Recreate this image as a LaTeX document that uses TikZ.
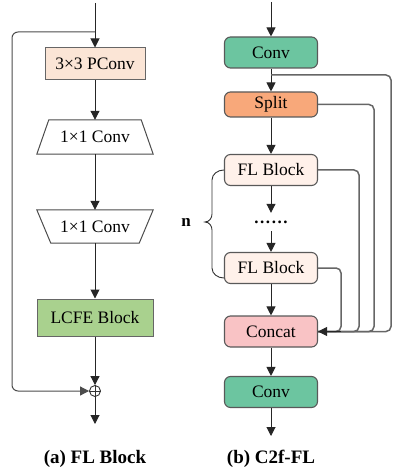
\documentclass[tikz,border=0pt]{standalone}
\usepackage{fontspec}
\setmainfont{Liberation Serif}
\usetikzlibrary{arrows.meta,calc}
\definecolor{pconv}{HTML}{FBE5D6}
\definecolor{lcfe}{HTML}{A9D18E}
\definecolor{convg}{HTML}{6CC5A0}
\definecolor{splitc}{HTML}{F8A87A}
\definecolor{flc}{HTML}{FFF1EA}
\definecolor{concatc}{HTML}{F9C3C5}
\begin{document}
\begin{tikzpicture}[x=1pt,y=-1pt,
  every node/.style={font=\fontsize{17.5}{20}\selectfont},
  lbox/.style={draw=black!60, line width=1pt, minimum width=100pt, minimum height=32pt, inner sep=0pt},
  trapbox/.style={minimum width=116pt, inner sep=0pt},
  trapline/.style={draw=black!70, line width=1pt},
  rbox/.style={draw=black!65, line width=1.1pt, rounded corners=6pt, minimum width=93pt, minimum height=31pt, inner sep=0pt},
  arr/.style={draw=black!85, line width=1pt, -{Triangle[length=9pt,width=9pt]}},
  fback/.style={draw=black!70, line width=1pt, rounded corners=6pt, -{Triangle[length=9pt,width=9pt]}},
  link/.style={draw=black!60, line width=1.5pt, rounded corners=5pt},
  captext/.style={font=\bfseries\fontsize{19}{22}\selectfont}
]
\useasboundingbox (0,0) rectangle (392,470);

% ---------- (a) FL Block ----------
\coordinate (lin) at (95,3);
\node[lbox, fill=pconv] (pc) at (95,64) {3×3 PConv};
\node[trapbox, minimum height=34pt] (t1) at (95,137) {1×1 Conv};
\draw[trapline] ($(t1.north west)+(12,0)$) -- ($(t1.north east)+(-12,0)$) -- (t1.south east) -- (t1.south west) -- cycle;
\node[trapbox, minimum height=33pt] (t2) at (95,226.5) {1×1 Conv};
\draw[trapline] (t2.north west) -- (t2.north east) -- ($(t2.south east)+(-14,0)$) -- ($(t2.south west)+(14,0)$) -- cycle;
\node[lbox, fill=lcfe, minimum width=116pt, minimum height=37pt] (lc) at (95,317.5) {LCFE Block};
\node[circle, draw=black!80, line width=0.9pt, inner sep=0pt, minimum size=11pt] (add) at (95,391) {};
\draw[black!80, line width=0.9pt] (add.north) -- (add.south) (add.west) -- (add.east);
\coordinate (lout) at (95,424);
\coordinate (fb1) at (95,32);
\coordinate (fb2) at (12,32);
\coordinate (fb3) at (12,391);

\draw[arr] (lin) -- (pc);
\draw[arr] (pc) -- (t1);
\draw[arr] (t1) -- (t2);
\draw[arr] (t2) -- (lc);
\draw[arr] (lc) -- (add);
\draw[arr] (add) -- (lout);
\draw[fback] (fb1) -- (fb2) -- (fb3) -- (add.west);

\node[captext] (capa) at (95,459) {(a) FL Block};

% ---------- (b) C2f-FL ----------
\coordinate (rin) at (271,2);
\node[rbox, fill=convg] (c1) at (271,52.5) {Conv};
\node[rbox, fill=splitc, minimum height=25pt] (sp) at (271,104.5) {Split};
\node[rbox, fill=flc] (f1) at (271,170) {FL Block};
\node[inner sep=0pt, minimum height=18pt, font=\bfseries\fontsize{17}{20}\selectfont] (dots) at (271,222) {.\kern1.6pt.\kern1.6pt.\kern1.6pt.\kern1.6pt.\kern1.6pt.};
\node[rbox, fill=flc] (f2) at (271,268) {FL Block};
\node[rbox, fill=concatc] (cc) at (271,331.5) {Concat};
\node[rbox, fill=convg] (c2) at (271,392) {Conv};
\coordinate (rout) at (271,436);

\draw[arr] (rin) -- (c1);
\draw[arr] (c1) -- (sp);
\draw[arr] (sp) -- (f1);
\draw[arr] (f1) -- (dots.north);
\draw[arr] (dots.south) -- (f2);
\draw[arr] (f2) -- (cc);
\draw[arr] (cc) -- (c2);
\draw[arr] (c2) -- (rout);

\coordinate (br) at (271,75);
\coordinate (v1) at (391,75);
\coordinate (v2) at (374,104.5);
\coordinate (v3) at (359,170);
\coordinate (v4) at (341,268);
\draw[link] (br) -- (v1) -- (v1 |- cc.east) -- (cc.east);
\draw[link] (sp.east) -- (v2) -- (v2 |- cc.east) -- (cc.east);
\draw[link] (f1.east) -- (v3) -- (v3 |- cc.east) -- (cc.east);
\draw[link] (f2.east) -- (v4) -- (v4 |- cc.east) -- (cc.east);
\draw[draw=black!85, line width=1pt, -{Triangle[length=9pt,width=9pt]}] (v4 |- cc.east) -- (cc.east);

% brace
\coordinate (bt) at ($(f2.west)+(0,10)$);
\draw[black!80, line width=0.9pt] (f1.west) to[out=180,in=90] (212,180) -- (212,214) to[out=-90,in=0] (205,222) to[out=0,in=90] (212,230) -- (212,268) to[out=-90,in=180] (bt);
\node[captext, font=\bfseries\fontsize{17}{20}\selectfont] (n) at (186,222) {n};

\node[captext] (capb) at (271,459) {(b) C2f-FL};
\end{tikzpicture}
\end{document}
